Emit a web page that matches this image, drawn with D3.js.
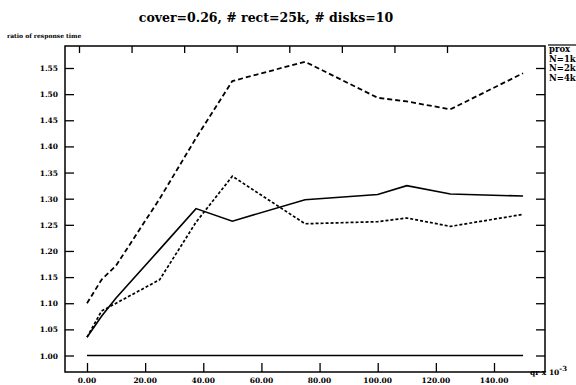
<!DOCTYPE html>
<html>
<head>
<meta charset="utf-8">
<script src="https://cdn.jsdelivr.net/npm/d3@7"></script>
<style>
  body { margin: 0; background: #fff; }
  svg { display: block; }
  text { font-family: "DejaVu Serif", "Liberation Serif", serif; font-weight: bold; fill: #000; }
</style>
</head>
<body>
<script>
const width = 576;
const height = 385;

// x values (x 10^-3)
const xs = [0, 5, 10, 25, 37.5, 50, 75, 100, 110, 125, 150];

// series
const upperDashed = [1.10, 1.145, 1.172, 1.30, 1.416, 1.525, 1.562, 1.493, 1.486, 1.471, 1.540];
const solidLine = [1.035, 1.075, 1.110, 1.203, 1.281, 1.257, 1.298, 1.308, 1.325, 1.309, 1.305];
const dottedLine = [1.035, 1.085, 1.100, 1.145, 1.255, 1.343, 1.252, 1.256, 1.263, 1.247, 1.270];
const baseLine = [1.0, 1.0, 1.0, 1.0, 1.0, 1.0, 1.0, 1.0, 1.0, 1.0, 1.0];

const xTicks = [0, 20, 40, 60, 80, 100, 120, 140];
const yTicks = [1.00, 1.05, 1.10, 1.15, 1.20, 1.25, 1.30, 1.35, 1.40, 1.45, 1.50, 1.55];
const topTicks = [0, 1, 2, 3, 4, 5, 6, 7];
const legendLabels = ["prox", "N=1k", "N=2k", "N=4k"];

const frame = { left: 65, right: 545, top: 46, bottom: 372 };

const x = d3.scaleLinear().domain([0, 140]).range([87, 494]);
const y = d3.scaleLinear().domain([1.00, 1.55]).range([355.5, 68]);
const xTop = d3.scaleLinear().domain([0, 7]).range([79, 447]);

const svg = d3.select("body").append("svg")
  .attr("width", width)
  .attr("height", height);

// title
svg.append("text")
  .attr("x", 266)
  .attr("y", 22)
  .attr("text-anchor", "middle")
  .style("font-size", "12.5px")
  .text("cover=0.26, # rect=25k, # disks=10");

svg.append("text")
  .attr("x", 7)
  .attr("y", 38)
  .style("font-size", "6px")
  .text("ratio of response time");

// frame
svg.append("rect")
  .attr("x", frame.left)
  .attr("y", frame.top)
  .attr("width", frame.right - frame.left)
  .attr("height", frame.bottom - frame.top)
  .attr("fill", "none")
  .attr("stroke", "#000")
  .attr("stroke-width", 1.5);

// left axis, ticks inward
const leftAxis = svg.append("g")
  .attr("transform", `translate(${frame.left},0)`)
  .call(d3.axisRight(y).tickValues(yTicks).tickSize(9).tickFormat(""));
leftAxis.select(".domain").remove();
leftAxis.selectAll("line").attr("stroke-width", 1.3);

svg.selectAll(".ylab")
  .data(yTicks)
  .join("text")
  .attr("class", "ylab")
  .attr("x", 58)
  .attr("y", (d) => y(d) + 3)
  .attr("text-anchor", "end")
  .style("font-size", "7.5px")
  .text((d) => d3.format(".2f")(d));

// right axis, ticks inward
const rightAxis = svg.append("g")
  .attr("transform", `translate(${frame.right},0)`)
  .call(d3.axisLeft(y).tickValues(yTicks).tickSize(9).tickFormat(""));
rightAxis.select(".domain").remove();
rightAxis.selectAll("line").attr("stroke-width", 1.3);

// bottom axis, ticks inward
const bottomAxis = svg.append("g")
  .attr("transform", `translate(0,${frame.bottom})`)
  .call(d3.axisTop(x).tickValues(xTicks).tickSize(9).tickFormat(""));
bottomAxis.select(".domain").remove();
bottomAxis.selectAll("line").attr("stroke-width", 1.3);

svg.selectAll(".xlab")
  .data(xTicks)
  .join("text")
  .attr("class", "xlab")
  .attr("x", (d) => x(d))
  .attr("y", 383)
  .attr("text-anchor", "middle")
  .style("font-size", "7.5px")
  .text((d) => d3.format(".2f")(d));

// top ticks (separate spacing in the original)
const topAxis = svg.append("g")
  .attr("transform", `translate(0,${frame.top})`)
  .call(d3.axisBottom(xTop).tickValues(topTicks).tickSize(7).tickFormat(""));
topAxis.select(".domain").remove();
topAxis.selectAll("line").attr("stroke-width", 1.3);

// x unit label
const unit = svg.append("text")
  .attr("x", 530)
  .attr("y", 375)
  .style("font-size", "7.5px");
unit.append("tspan").text("qr x 10");
unit.append("tspan").attr("dy", -4).style("font-size", "7px").text("-3");

// lines
const line = d3.line()
  .x((d, i) => x(xs[i]))
  .y((d) => y(d));

const series = [
  { values: baseLine, dash: null, w: 1.5 },
  { values: solidLine, dash: null, w: 1.6 },
  { values: dottedLine, dash: "3,2", w: 1.7 },
  { values: upperDashed, dash: "5,3", w: 1.8 },
];

svg.selectAll(".series")
  .data(series)
  .join("path")
  .attr("class", "series")
  .attr("d", (d) => line(d.values))
  .attr("fill", "none")
  .attr("stroke", "#000")
  .attr("stroke-width", (d) => d.w)
  .attr("stroke-dasharray", (d) => d.dash);

// legend (cut off by the right edge)
svg.append("line")
  .attr("x1", 548).attr("x2", 576)
  .attr("y1", 45).attr("y2", 45)
  .attr("stroke", "#000")
  .attr("stroke-width", 1.2);

svg.selectAll(".leg")
  .data(legendLabels)
  .join("text")
  .attr("class", "leg")
  .attr("x", 549)
  .attr("y", (d, i) => 52 + i * 9.5)
  .style("font-size", "8.5px")
  .text((d) => d);
</script>
</body>
</html>
